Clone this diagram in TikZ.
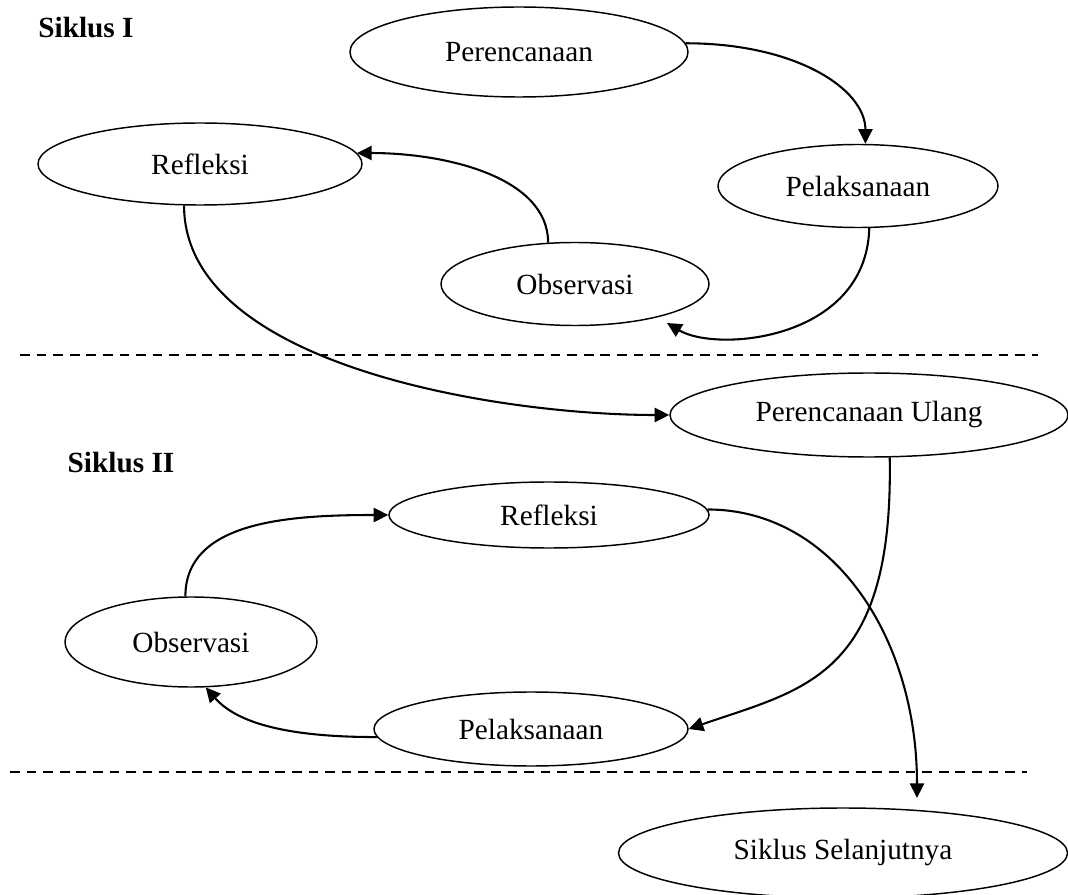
\documentclass[tikz,border=0pt]{standalone}
\usepackage{fontspec}
\setmainfont{Liberation Serif}
\usetikzlibrary{shapes.geometric,arrows.meta}
\begin{document}
\begin{tikzpicture}[x=0.41pt,y=-0.41pt,
  ell/.style 2 args={draw, ellipse, line width=0.6pt, inner sep=0pt,
    minimum width=#1*0.41pt, minimum height=#2*0.41pt,
    font=\fontsize{12}{14}\selectfont},
  conn/.style={line width=0.85pt, -{Triangle[length=6pt,width=5.8pt]}},
  sepline/.style={line width=0.55pt, dash pattern=on 4pt off 2.8pt},
  ttl/.style={font=\fontsize{12}{14}\selectfont\bfseries, inner sep=0pt}]
\useasboundingbox (0,0) rectangle (1068,895);

% titles
\node[ttl] (s1) at (86,28) {Siklus I};
\node[ttl] (s2) at (121,463) {Siklus II};

% cycle I
\node[ell={338}{90}] (P1) at (519,52) {Perencanaan};
\node[ell={324}{82}] (R1) at (200,164) {Refleksi};
\node[ell={280}{83}] (L1) at (858,186) {Pelaksanaan};
\node[ell={268}{83}] (O1) at (575,284) {Observasi};
\node[ell={398}{84}] (PU) at (869,415) {Perencanaan Ulang};

% cycle II
\node[ell={320}{66}] (R2) at (549,515) {Refleksi};
\node[ell={252}{90}] (O2) at (191,642) {Observasi};
\node[ell={314}{74}] (L2) at (531,729) {Pelaksanaan};
\node[ell={449}{90}] (SS) at (843,853) {Siklus Selanjutnya};

% dashed separators
\coordinate (d1a) at (20,355);
\coordinate (d1b) at (1038,355);
\coordinate (d2a) at (10,772);
\coordinate (d2b) at (1027,772);
\draw[sepline] (d1a) -- (d1b);
\draw[sepline] (d2a) -- (d2b);

% free ends
\coordinate (o1in) at (667,323);
\coordinate (ssin) at (917,798);

% connectors cycle I
\draw[conn] (P1.3) .. controls +(110,0) and +(0,-55) .. (L1.80);
\draw[conn] (O1.123) .. controls +(0,-65) and +(90,0) .. (R1.4);
\draw[conn] (L1.-75) .. controls +(-3,112) and +(50,30) .. (o1in);
\draw[conn] (R1.-111) .. controls +(0,160) and +(-170,0) .. (PU.west);

% connectors cycle II
\draw[conn] (PU.-64) .. controls +(4,220) and +(115,-40) .. (L2.east);
\draw[conn] (R2.2) .. controls +(126,0) and +(0,-160) .. (ssin);
\draw[conn] (O2.97) .. controls +(0,-75) and +(-100,0) .. (R2.west);
\draw[conn] (L2.183) .. controls +(-75,0) and +(35,40) .. (O2.-72);
\end{tikzpicture}
\end{document}
